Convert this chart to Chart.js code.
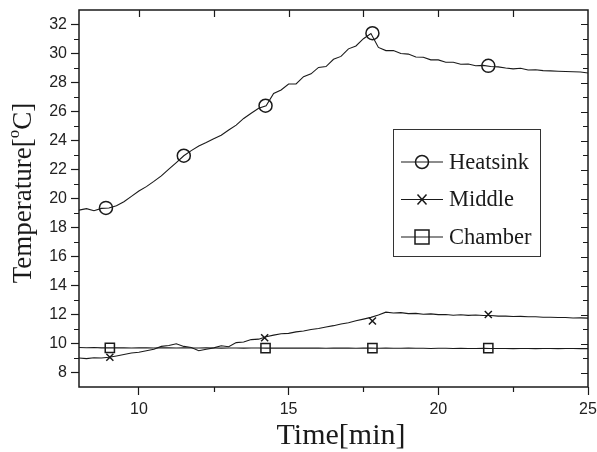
<!DOCTYPE html>
<html>
<head>
<meta charset="utf-8">
<script src="https://cdn.jsdelivr.net/npm/chart.js@4.4.0/dist/chart.umd.min.js"></script>
<style>
  html, body { margin: 0; padding: 0; background: #fff; }
  canvas { display: block; }
</style>
</head>
<body>
<canvas id="chart" width="597" height="452"></canvas>
<script>
// time axis, minutes
const time = [
  8, 8.25, 8.5, 8.75, 9, 9.25, 9.5, 9.75, 10, 10.25, 10.5, 10.75,
  11, 11.25, 11.5, 11.75, 12, 12.25, 12.5, 12.75, 13, 13.25, 13.5, 13.75,
  14, 14.25, 14.5, 14.75, 15, 15.25, 15.5, 15.75, 16, 16.25, 16.5, 16.75,
  17, 17.25, 17.5, 17.75, 18, 18.25, 18.5, 18.75, 19, 19.25, 19.5, 19.75,
  20, 20.25, 20.5, 20.75, 21, 21.25, 21.5, 21.75, 22, 22.25, 22.5, 22.75,
  23, 23.25, 23.5, 23.75, 24, 24.25, 24.5, 24.75, 25
];

const heatsink = [
  19.20, 19.30, 19.16, 19.32, 19.35, 19.50, 19.78, 20.15, 20.52, 20.82, 21.18, 21.56,
  22.02, 22.48, 22.95, 23.30, 23.62, 23.86, 24.12, 24.36, 24.72, 25.06, 25.52, 25.88,
  26.22, 26.40, 27.24, 27.48, 27.90, 27.90, 28.40, 28.60, 29.04, 29.10, 29.60, 29.80,
  30.32, 30.52, 31.02, 31.38, 30.42, 30.20, 30.20, 30.00, 29.96, 29.76, 29.74, 29.56,
  29.56, 29.40, 29.40, 29.26, 29.28, 29.16, 29.18, 29.10, 29.08, 29.00, 28.94, 28.98,
  28.86, 28.88, 28.82, 28.80, 28.78, 28.76, 28.74, 28.72, 28.65
];

const middle = [
  9.00, 8.96, 9.02, 9.00, 9.05, 9.14, 9.24, 9.34, 9.40, 9.50, 9.60, 9.80,
  9.86, 9.98, 9.80, 9.72, 9.50, 9.60, 9.70, 9.84, 9.78, 10.06, 10.10, 10.27,
  10.30, 10.47, 10.58, 10.67, 10.70, 10.80, 10.86, 10.97, 11.03, 11.14, 11.23, 11.34,
  11.43, 11.57, 11.68, 11.80, 11.96, 12.16, 12.10, 12.13, 12.06, 12.08, 12.02, 12.04,
  11.99, 12.00, 11.95, 11.98, 11.94, 11.97, 11.93, 11.93, 11.89, 11.89, 11.86, 11.87,
  11.84, 11.84, 11.81, 11.81, 11.79, 11.79, 11.76, 11.77, 11.75
];

const chamber = [
  9.72, 9.71, 9.72, 9.70, 9.70, 9.71, 9.70, 9.69, 9.70, 9.70, 9.69, 9.70,
  9.70, 9.69, 9.70, 9.69, 9.69, 9.70, 9.69, 9.68, 9.69, 9.69, 9.68, 9.69,
  9.69, 9.68, 9.68, 9.69, 9.68, 9.68, 9.69, 9.68, 9.68, 9.67, 9.68, 9.68,
  9.68, 9.67, 9.68, 9.68, 9.67, 9.68, 9.67, 9.67, 9.68, 9.67, 9.67, 9.66,
  9.67, 9.67, 9.66, 9.67, 9.66, 9.66, 9.67, 9.66, 9.66, 9.66, 9.65, 9.66,
  9.66, 9.65, 9.66, 9.65, 9.65, 9.66, 9.65, 9.65, 9.65
];

// symbol positions on each curve
const heatsinkMarkT = [8.9, 11.5, 14.23, 17.8, 21.67];
const heatsinkMarkV = [19.35, 22.95, 26.4, 31.4, 29.15];
const middleMarkT = [9.03, 14.2, 17.8, 21.67];
const middleMarkV = [9.05, 10.4, 11.55, 12.0];
const chamberMarkT = [9.03, 14.23, 17.8, 21.67];
const chamberMarkV = [9.7, 9.68, 9.68, 9.68];

const xTicks = [10, 15, 20, 25];
const xMinor = [12.5, 17.5, 22.5];
const yTicks = [8, 10, 12, 14, 16, 18, 20, 22, 24, 26, 28, 30, 32];
const yMinor = [9, 11, 13, 15, 17, 19, 21, 23, 25, 27, 29, 31];

const legendLabels = ['Heatsink', 'Middle', 'Chamber'];
const legendStyles = ['circle', 'crossRot', 'rect'];

const INK = '#1a1a1a';
const SANS = '"Liberation Sans", Arial, sans-serif';
const SERIF = '"Liberation Serif", "Times New Roman", serif';

const pairs = (xs, ys) => xs.map((x, i) => ({ x, y: ys[i] }));

const lineSet = (values) => ({
  data: pairs(time, values),
  borderColor: INK,
  borderWidth: 1.1,
  pointRadius: 0,
  tension: 0,
  fill: false
});

const markSet = (xs, ys, style, r) => ({
  data: pairs(xs, ys),
  showLine: false,
  pointStyle: style,
  pointRadius: r,
  pointBorderColor: INK,
  pointBackgroundColor: 'rgba(0,0,0,0)',
  pointBorderWidth: 1.5
});

const Frame = {
  id: 'frame',
  afterDraw(chart) {
    const { ctx, chartArea: a, scales: { x, y } } = chart;
    ctx.save();
    ctx.strokeStyle = INK;
    ctx.lineWidth = 1.5;
    ctx.strokeRect(a.left, a.top, a.right - a.left, a.bottom - a.top);

    ctx.lineWidth = 1.2;
    ctx.beginPath();
    xTicks.concat(xMinor).forEach(v => {
      if (v >= 25) return;
      const px = Math.round(x.getPixelForValue(v)) + 0.5;
      ctx.moveTo(px, a.top); ctx.lineTo(px, a.top + 7);
    });
    xMinor.forEach(v => {
      const px = Math.round(x.getPixelForValue(v)) + 0.5;
      ctx.moveTo(px, a.bottom); ctx.lineTo(px, a.bottom + 5);
    });
    yMinor.forEach(v => {
      const py = Math.round(y.getPixelForValue(v)) + 0.5;
      ctx.moveTo(a.left, py); ctx.lineTo(a.left - 5, py);
      ctx.moveTo(a.right, py); ctx.lineTo(a.right - 5, py);
    });
    yTicks.forEach(v => {
      const py = Math.round(y.getPixelForValue(v)) + 0.5;
      ctx.moveTo(a.right, py); ctx.lineTo(a.right - 7, py);
    });
    ctx.stroke();
    ctx.restore();
  }
};

const Titles = {
  id: 'titles',
  afterDraw(chart) {
    const { ctx } = chart;
    const big = '27px ' + SERIF;
    const small = '17px ' + SERIF;
    ctx.save();
    ctx.fillStyle = INK;

    // x title
    ctx.font = '30px ' + SERIF;
    ctx.textAlign = 'center';
    ctx.textBaseline = 'alphabetic';
    ctx.fillText('Time[min]', 341, 444);

    // y title, with raised "o"
    ctx.textAlign = 'left';
    ctx.translate(24, 193);
    ctx.rotate(-Math.PI / 2);
    ctx.textBaseline = 'middle';
    ctx.font = big;
    const w1 = ctx.measureText('Temperature[').width;
    const w3 = ctx.measureText('C]').width;
    ctx.font = small;
    const w2 = ctx.measureText('o').width;
    let cx = -(w1 + w2 + w3) / 2;
    ctx.font = big;
    ctx.fillText('Temperature[', cx, 0);
    cx += w1;
    ctx.font = small;
    ctx.fillText('o', cx, -9);
    cx += w2;
    ctx.font = big;
    ctx.fillText('C]', cx, 0);
    ctx.restore();
  }
};

const Legend = {
  id: 'boxlegend',
  afterDraw(chart) {
    const { ctx } = chart;
    ctx.save();
    ctx.strokeStyle = '#333';
    ctx.lineWidth = 1;
    ctx.strokeRect(393.5, 129.5, 147, 127);
    ctx.font = '22.5px ' + SERIF;
    ctx.textBaseline = 'middle';
    ctx.fillStyle = INK;
    legendLabels.forEach((label, i) => {
      const cy = 162 + i * 37.5;
      ctx.strokeStyle = INK;
      ctx.lineWidth = 1.2;
      ctx.beginPath();
      ctx.moveTo(401, cy); ctx.lineTo(443, cy);
      ctx.stroke();
      ctx.lineWidth = 1.5;
      ctx.beginPath();
      const cx = 422;
      if (legendStyles[i] === 'circle') {
        ctx.arc(cx, cy, 6.5, 0, Math.PI * 2);
      } else if (legendStyles[i] === 'crossRot') {
        ctx.moveTo(cx - 4.5, cy - 5); ctx.lineTo(cx + 4.5, cy + 5);
        ctx.moveTo(cx + 4.5, cy - 5); ctx.lineTo(cx - 4.5, cy + 5);
      } else {
        ctx.rect(cx - 7, cy - 7, 14, 14);
      }
      ctx.stroke();
      ctx.fillText(label, 449, cy + 1);
    });
    ctx.restore();
  }
};

new Chart(document.getElementById('chart'), {
  type: 'line',
  data: {
    datasets: [
      lineSet(heatsink),
      lineSet(middle),
      lineSet(chamber),
      markSet(heatsinkMarkT, heatsinkMarkV, 'circle', 6.5),
      markSet(middleMarkT, middleMarkV, 'crossRot', 5),
      markSet(chamberMarkT, chamberMarkV, 'rect', 6.5)
    ]
  },
  options: {
    responsive: false,
    animation: false,
    devicePixelRatio: 1,
    layout: { padding: { top: 10, right: 9, left: 0, bottom: 0 } },
    plugins: { legend: { display: false }, tooltip: { enabled: false } },
    scales: {
      x: {
        type: 'linear',
        min: 8,
        max: 25,
        afterBuildTicks: (s) => { s.ticks = xTicks.map(v => ({ value: v })); },
        afterFit: (s) => { s.height = 65; s.paddingLeft = 0; s.paddingRight = 0; },
        ticks: { color: '#222', font: { family: SANS, size: 16 }, padding: 5, maxRotation: 0 },
        grid: { drawOnChartArea: false, tickLength: 8, tickColor: INK, tickWidth: 1.2 },
        border: { display: false }
      },
      y: {
        min: 7,
        max: 33,
        afterBuildTicks: (s) => { s.ticks = yTicks.map(v => ({ value: v })); },
        afterFit: (s) => { s.width = 79; s.paddingTop = 0; s.paddingBottom = 0; },
        ticks: { color: '#222', font: { family: SANS, size: 16 }, padding: 4 },
        grid: { drawOnChartArea: false, tickLength: 8, tickColor: INK, tickWidth: 1.2 },
        border: { display: false }
      }
    }
  },
  plugins: [Frame, Titles, Legend]
});
</script>
</body>
</html>
